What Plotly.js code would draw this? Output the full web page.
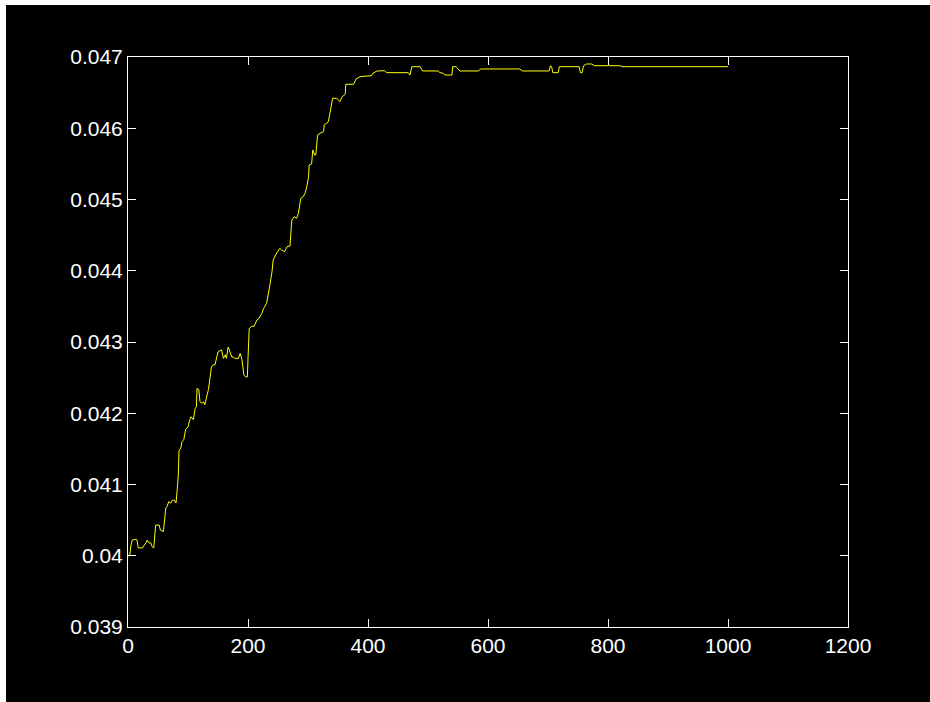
<!DOCTYPE html>
<html>
<head>
<meta charset="utf-8">
<script src="https://cdn.plot.ly/plotly-3.0.1.min.js"></script>
<style>
  html, body { margin: 0; padding: 0; background: #000000; width: 930px; height: 702px; overflow: hidden; }
  #chart { position: absolute; left: 0; top: 0; width: 930px; height: 702px; }
  .edge { position: absolute; background: #ffffff; z-index: 10; }
  #edgeTop { left: 0; top: 0; width: 930px; height: 5px; }
  #edgeLeft { left: 0; top: 0; width: 6px; height: 702px; }
</style>
</head>
<body>
<div id="chart"></div>
<div class="edge" id="edgeTop"></div>
<div class="edge" id="edgeLeft"></div>
<script>
// Iteration index (x) and value (y)
const iterations = [
  1, 3, 5, 7, 13, 15, 17, 24, 27, 30, 32, 35, 38, 40, 43, 45, 46, 52, 54, 59,
  61, 63, 65, 68, 71, 74, 77, 80, 82, 84, 85, 88, 90, 93, 96, 100, 103, 105, 109, 112,
  114, 115, 118, 120, 123, 126, 128, 131, 134, 137, 139, 142, 145, 148, 150, 156, 159, 162, 164, 167,
  170, 173, 176, 178, 184, 187, 190, 191, 193, 196, 199, 200, 202, 206, 210, 215, 218, 223, 226, 231,
  234, 237, 240, 242, 246, 251, 253, 256, 261, 265, 270, 271, 273, 277, 281, 284, 287, 288, 292, 295,
  298, 301, 302, 306, 308, 311, 313, 316, 320, 326, 327, 334, 338, 341, 348, 353, 357, 362, 363, 376,
  380, 387, 406, 408, 415, 428, 431, 467, 470, 473, 487, 491, 517, 520, 526, 528, 540, 541, 547, 553,
  584, 588, 653, 657, 702, 704, 706, 708, 717, 719, 752, 754, 757, 759, 764, 773, 777, 820, 823, 1000
];
const values = [
  0.03999, 0.04001, 0.04015, 0.04022, 0.04023, 0.04022, 0.04011, 0.04011, 0.04015, 0.04018,
  0.04022, 0.04018, 0.04018, 0.04013, 0.04011, 0.04036, 0.04043, 0.04043, 0.04036, 0.04034,
  0.04055, 0.04067, 0.04069, 0.04076, 0.04074, 0.04078, 0.04078, 0.04074, 0.04092, 0.04116,
  0.04148, 0.04151, 0.04160, 0.04163, 0.04177, 0.04181, 0.04191, 0.04195, 0.04191, 0.04207,
  0.04209, 0.04235, 0.04233, 0.04216, 0.04214, 0.04216, 0.04212, 0.04223, 0.04233, 0.04251,
  0.04265, 0.04268, 0.04268, 0.04279, 0.04286, 0.04289, 0.04277, 0.04282, 0.04277, 0.04293,
  0.04286, 0.04279, 0.04279, 0.04277, 0.04277, 0.04284, 0.04275, 0.04268, 0.04254, 0.04251,
  0.04251, 0.04277, 0.04319, 0.04322, 0.04322, 0.04331, 0.04333, 0.04340, 0.04347, 0.043543,
  0.04366, 0.043824, 0.043987, 0.044151, 0.044221, 0.044291, 0.044315, 0.044291, 0.044267, 0.044338,
  0.044347, 0.044478, 0.044712, 0.044759, 0.044736, 0.044806, 0.044947, 0.045017, 0.045039, 0.045087,
  0.04518, 0.04532, 0.045484, 0.045498, 0.045695, 0.045625, 0.045625, 0.045905, 0.045929, 0.045952,
  0.046046, 0.046092, 0.04628, 0.04642, 0.04642, 0.046373, 0.046443, 0.046476, 0.046617, 0.046617,
  0.046691, 0.046724, 0.046738, 0.046771, 0.046804, 0.046808, 0.04678, 0.04678, 0.046747, 0.046864,
  0.046864, 0.046804, 0.046804, 0.04678, 0.046771, 0.046747, 0.046747, 0.046864, 0.046864, 0.046804,
  0.046804, 0.046832, 0.046832, 0.046804, 0.046804, 0.046878, 0.046864, 0.04678, 0.04678, 0.046864,
  0.046864, 0.04678, 0.04678, 0.046874, 0.046902, 0.046902, 0.046878, 0.046878, 0.046864, 0.046864
];
const xTicks = [0, 200, 400, 600, 800, 1000, 1200];
const xTickLabels = ['0', '200', '400', '600', '800', '1000', '1200'];
const yTicks = [0.039, 0.040, 0.041, 0.042, 0.043, 0.044, 0.045, 0.046, 0.047];
const yTickLabels = ['0.039', '0.04', '0.041', '0.042', '0.043', '0.044', '0.045', '0.046', '0.047'];

const trace = {
  x: iterations,
  y: values,
  type: 'scatter',
  mode: 'lines',
  line: { color: '#ffff00', width: 1 },
  hoverinfo: 'skip'
};

const axisCommon = {
  showgrid: false,
  zeroline: false,
  showline: true,
  linecolor: '#ffffff',
  linewidth: 1,
  mirror: 'ticks',
  ticks: 'inside',
  ticklen: 8,
  tickwidth: 1,
  tickcolor: '#ffffff',
  tickfont: { family: 'Liberation Sans, Arial, sans-serif', size: 21, color: '#ffffff' },
  tickmode: 'array'
};

const layout = {
  width: 930,
  height: 702,
  paper_bgcolor: '#000000',
  plot_bgcolor: '#000000',
  margin: { l: 128, r: 82, t: 57, b: 75 },
  showlegend: false,
  xaxis: Object.assign({}, axisCommon, {
    range: [0, 1200],
    tickvals: xTicks,
    ticktext: xTickLabels
  }),
  yaxis: Object.assign({}, axisCommon, {
    range: [0.039, 0.047],
    tickvals: yTicks,
    ticktext: yTickLabels
  })
};

Plotly.newPlot('chart', [trace], layout, { staticPlot: true, displayModeBar: false });
</script>
</body>
</html>
